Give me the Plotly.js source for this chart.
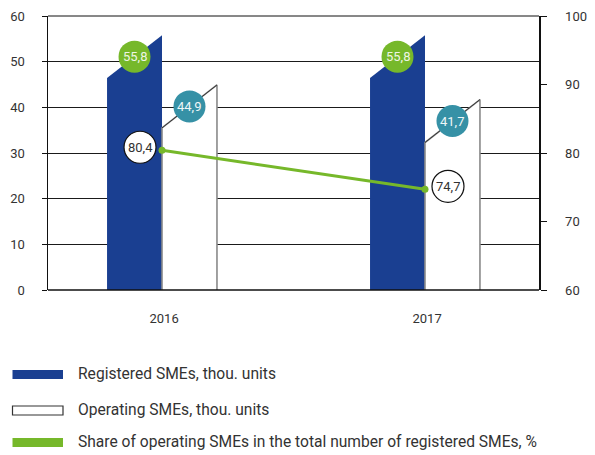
<!DOCTYPE html>
<html>
<head>
<meta charset="utf-8">
<script src="https://cdn.plot.ly/plotly-3.0.1.min.js"></script>
<style>html,body{margin:0;padding:0;background:#fff;}#chart{width:595px;height:455px;}</style>
</head>
<body>
<div id="chart"></div>
<script>
// ---- data ----
const years = ['2016', '2017'];
const registered = [55.8, 55.8];      // thou. units (left axis)
const operating = [44.9, 41.7];       // thou. units (left axis)
const share = [80.4, 74.7];           // % (right axis)
const registeredLabels = ['55,8', '55,8'];
const operatingLabels = ['44,9', '41,7'];
const shareLabels = ['80,4', '74,7'];
const legendNames = ['Registered SMEs, thou. units', 'Operating SMEs, thou. units',
  'Share of operating SMEs in the total number of registered SMEs, %'];

// ---- style constants ----
const BLUE = '#1a3f91', GREEN = '#76b82a', TEAL = '#3691a6';
const W = 0.209;      // bar width in category units
const SLANT = 9.4;    // decorative slanted-top drop (left-axis units)
const FONT = 'Roboto, "Open Sans", sans-serif';
const centers = years.map((_, i) => i);

const traces = [];
years.forEach((yr, i) => {
  const c = centers[i];
  const v = registered[i];
  traces.push({
    type: 'scatter', mode: 'lines', fill: 'toself', fillcolor: BLUE,
    x: [c - W, c - W, c, c, c - W], y: [0, v - SLANT, v, 0, 0],
    line: {color: BLUE, width: 0}, hoverinfo: 'skip', showlegend: false
  });
  const o = operating[i];
  traces.push({
    type: 'scatter', mode: 'lines', fill: 'toself', fillcolor: '#ffffff',
    x: [c, c, c + W, c + W], y: [0, o - SLANT, o, 0],
    line: {color: '#8a8a8a', width: 1.6}, hoverinfo: 'skip', showlegend: false
  });
  traces.push({
    type: 'scatter', mode: 'lines',
    x: [c, c + W], y: [o - SLANT, o],
    line: {color: '#222', width: 0.8}, hoverinfo: 'skip', showlegend: false
  });
});
traces.push({
  type: 'scatter', mode: 'lines+markers', x: centers, y: share, yaxis: 'y2',
  line: {color: GREEN, width: 3}, marker: {color: GREEN, size: 7},
  hoverinfo: 'skip', showlegend: false
});

const shapes = [];
const annotations = [];
const R = 16;
years.forEach((yr, i) => {
  const c = centers[i];
  shapes.push({type: 'circle', xref: 'x', yref: 'y', xsizemode: 'pixel', ysizemode: 'pixel',
    xanchor: c - W / 2, yanchor: registered[i] - SLANT / 2,
    x0: -R, x1: R, y0: -R, y1: R, fillcolor: GREEN, line: {width: 0}, layer: 'above'});
  annotations.push({xref: 'x', yref: 'y', x: c - W / 2, y: registered[i] - SLANT / 2,
    text: registeredLabels[i], showarrow: false, font: {family: FONT, size: 13, color: '#eef5e4'}});
  shapes.push({type: 'circle', xref: 'x', yref: 'y', xsizemode: 'pixel', ysizemode: 'pixel',
    xanchor: c + W / 2, yanchor: operating[i] - SLANT / 2,
    x0: -R, x1: R, y0: -R, y1: R, fillcolor: TEAL, line: {width: 0}, layer: 'above'});
  annotations.push({xref: 'x', yref: 'y', x: c + W / 2, y: operating[i] - SLANT / 2,
    text: operatingLabels[i], showarrow: false, font: {family: FONT, size: 13, color: '#eef6f8'}});
  const dx = i === 0 ? -22 : 23;
  shapes.push({type: 'circle', xref: 'x', yref: 'y2', xsizemode: 'pixel', ysizemode: 'pixel',
    xanchor: c, yanchor: share[i],
    x0: dx - R, x1: dx + R, y0: -R + 3, y1: R + 3, fillcolor: '#ffffff', line: {width: 1.2, color: '#111'}, layer: 'above'});
  annotations.push({xref: 'x', yref: 'y2', x: c, y: share[i], xshift: dx, yshift: 3,
    text: shareLabels[i], showarrow: false, font: {family: FONT, size: 13, color: '#333'}});
});

// legend (drawn in paper pixels)
const legendY = [374.5, 410.5, 442.5];
const H = 455, T = 16, B = 165, L = 48, Rm = 56;
const ph = H - T - B, pw = 595 - L - Rm;
const px = v => (v - L) / pw;
const py = v => (H - B - v) / ph;
const legendStyles = [
  {fillcolor: BLUE, line: {width: 0}},
  {fillcolor: '#fff', line: {width: 1.2, color: '#333'}},
  {fillcolor: GREEN, line: {width: 0}}
];
legendNames.forEach((name, k) => {
  shapes.push(Object.assign({type: 'rect', xref: 'paper', yref: 'paper',
    x0: px(12.5), x1: px(63), y0: py(legendY[k] - 4.5), y1: py(legendY[k] + 4.5)}, legendStyles[k]));
  annotations.push({xref: 'paper', yref: 'paper', x: px(76), y: py(legendY[k] - 0.5),
    xanchor: 'left', yanchor: 'middle', text: name, showarrow: false,
    font: {family: FONT, size: 15.6, color: '#333'}});
});

const layout = {
  width: 595, height: 455,
  margin: {l: L, r: Rm, t: T, b: B},
  paper_bgcolor: '#fff', plot_bgcolor: '#fff',
  showlegend: false,
  font: {family: FONT, size: 13, color: '#333'},
  xaxis: {
    range: [-0.4335, 1.4335], showgrid: false, zeroline: false,
    tickvals: centers.map(c => c + 0.008), ticktext: years, ticks: '', showline: false,
    tickfont: {family: FONT, size: 13, color: '#333'}, ticklabelstandoff: 19, fixedrange: true
  },
  yaxis: {
    range: [0, 60], dtick: 10, showgrid: true, gridcolor: '#1a1a1a', gridwidth: 1,
    zeroline: false, showline: true, linecolor: '#111', linewidth: 1.5,
    ticks: 'outside', ticklen: 5, tickcolor: '#111', ticklabelstandoff: 14,
    tickfont: {family: FONT, size: 13, color: '#333'}, layer: 'below traces'
  },
  yaxis2: {
    range: [60, 100], dtick: 10, overlaying: 'y', side: 'right', showgrid: false,
    zeroline: false, showline: true, linecolor: '#111', linewidth: 1.5,
    ticks: 'outside', ticklen: 6, tickcolor: '#111', ticklabelstandoff: 16,
    tickfont: {family: FONT, size: 13, color: '#333'}
  },
  shapes: shapes.concat([
    {type: 'line', xref: 'paper', yref: 'paper', x0: 0, x1: 1, y0: 0, y1: 0, line: {color: '#111', width: 1.5}, layer: 'above'},
    {type: 'line', xref: 'paper', yref: 'paper', x0: 0, x1: 1, y0: 1, y1: 1, line: {color: '#111', width: 1}, layer: 'below'}
  ]),
  annotations: annotations
};

Plotly.newPlot('chart', traces, layout, {staticPlot: true, displayModeBar: false});
</script>
</body>
</html>
